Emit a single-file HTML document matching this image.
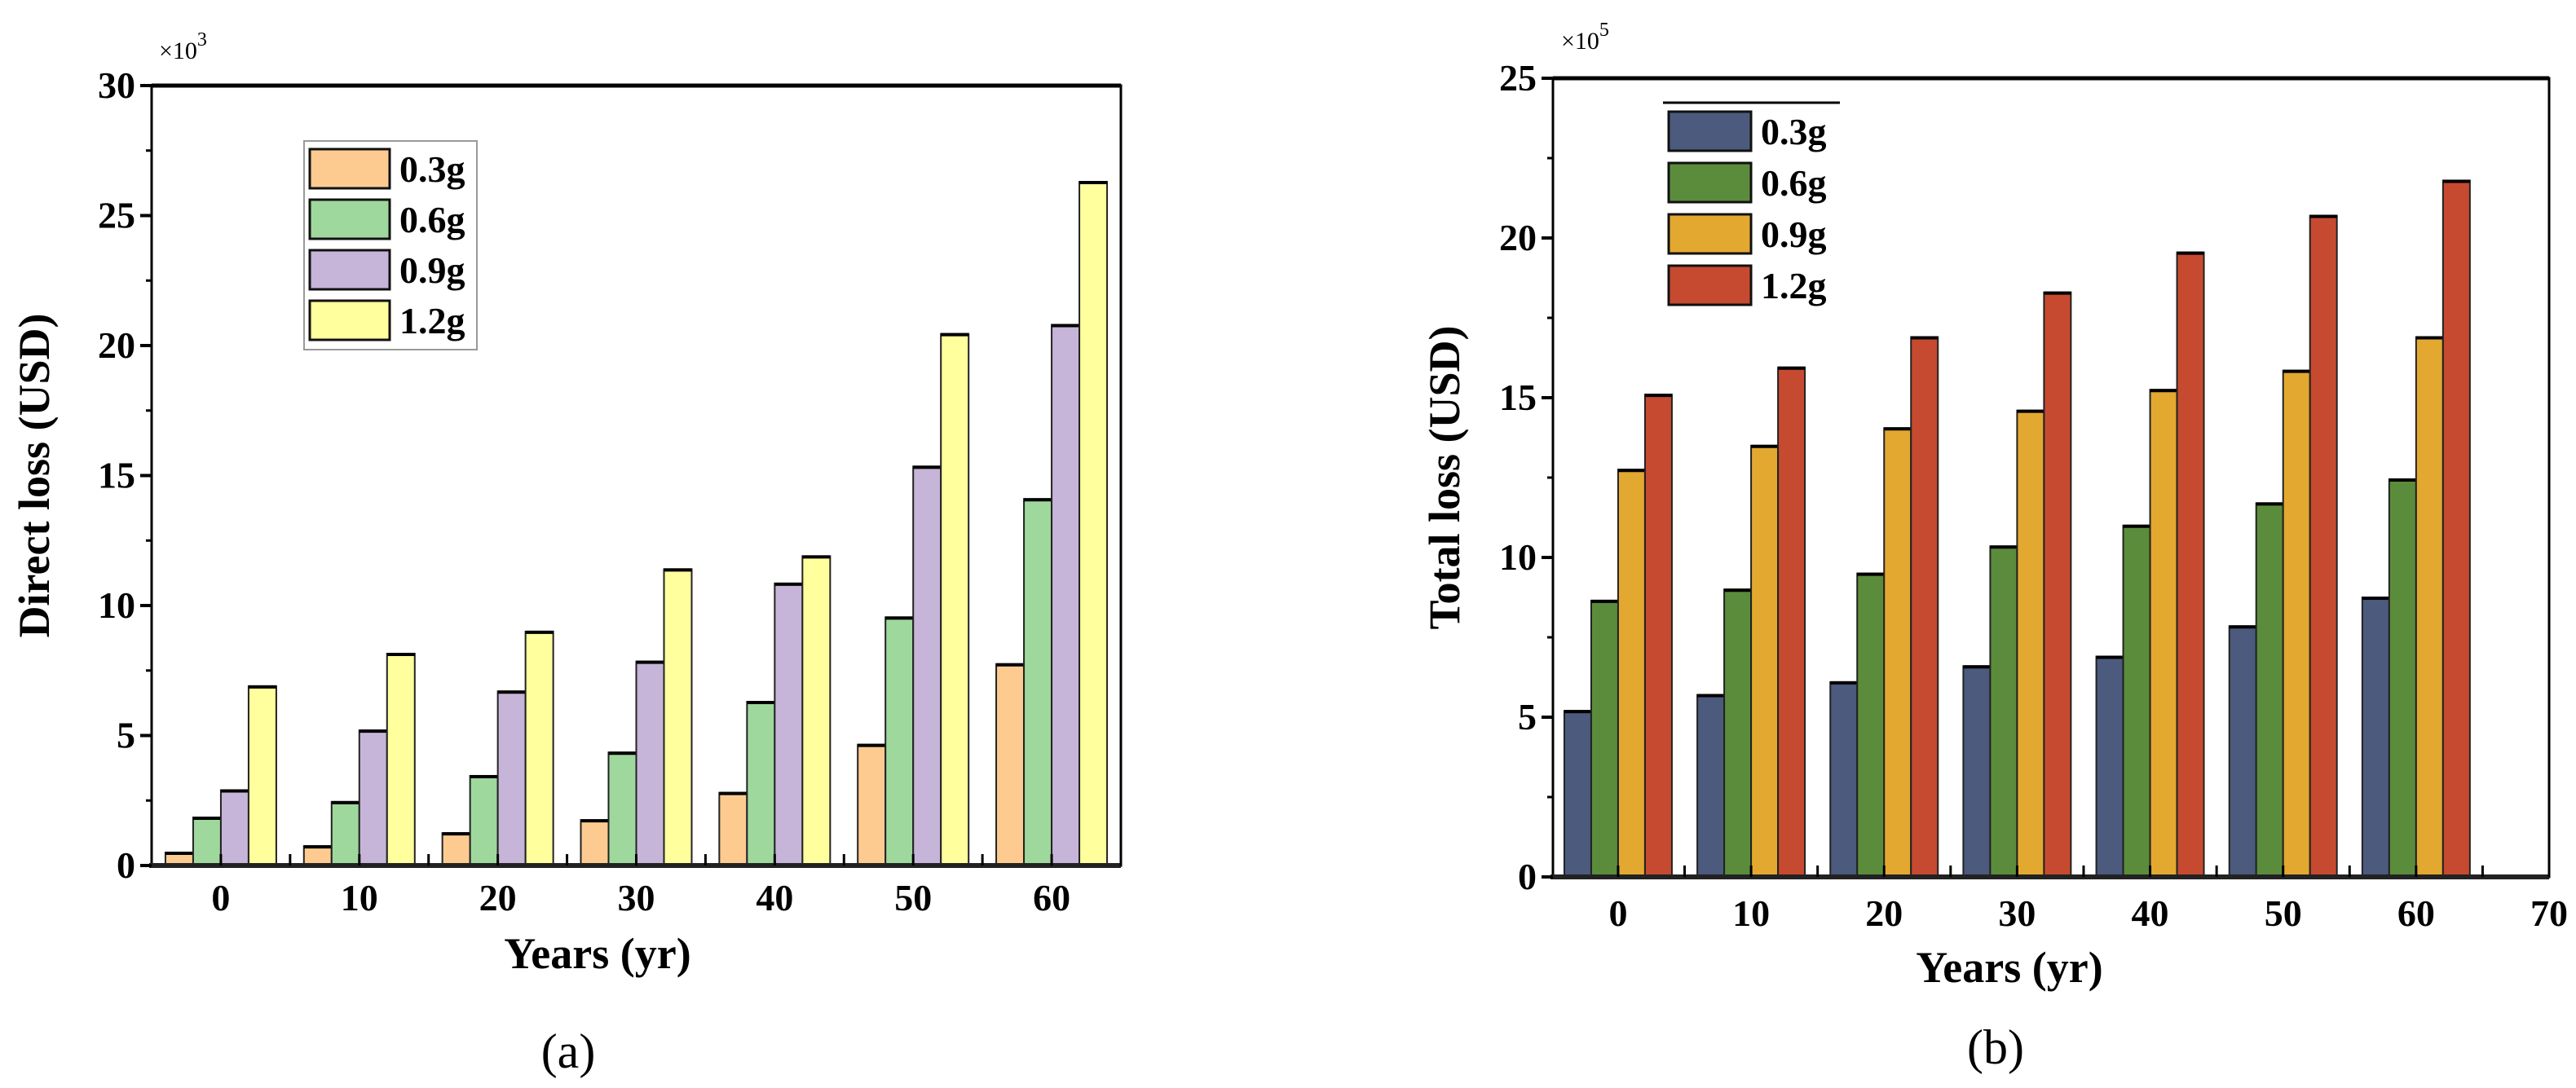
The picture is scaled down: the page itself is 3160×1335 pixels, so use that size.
<!DOCTYPE html>
<html><head><meta charset="utf-8"><style>
html,body{margin:0;padding:0;background:#fff;}
svg{display:block;font-family:"Liberation Serif",serif;}
</style></head><body>
<svg id="fig" width="3160" height="1335" viewBox="0 0 3160 1335" xmlns="http://www.w3.org/2000/svg">
<g id="ga"></g>
<g id="gb"></g>
</svg>
<script>
const categories = [0,10,20,30,40,50,60];
const seriesNames = ["0.3g","0.6g","0.9g","1.2g"];
const directLoss03 = [0.5,0.75,1.25,1.75,2.8,4.65,7.75];
const directLoss06 = [1.85,2.45,3.45,4.35,6.3,9.55,14.1];
const directLoss09 = [2.9,5.2,6.7,7.85,10.85,15.35,20.8];
const directLoss12 = [6.9,8.15,9.0,11.4,11.9,20.45,26.3];
const totalLoss03 = [5.2,5.7,6.1,6.6,6.9,7.85,8.75];
const totalLoss06 = [8.65,9.0,9.5,10.35,11.0,11.7,12.45];
const totalLoss09 = [12.75,13.5,14.05,14.6,15.25,15.85,16.9];
const totalLoss12 = [15.1,15.95,16.9,18.3,19.55,20.7,21.8];
const yTicksA = [0,5,10,15,20,25,30];
const yTicksB = [0,5,10,15,20,25];
const xTicksA = [0,10,20,30,40,50,60];
const xTicksB = [0,10,20,30,40,50,60,70];

const NS="http://www.w3.org/2000/svg";
function mk(parent,tag,attrs,text){const e=document.createElementNS(NS,tag);for(const k in attrs)e.setAttribute(k,attrs[k]);if(text!==undefined)e.textContent=text;parent.appendChild(e);return e;}

function drawChart(g,cfg){
  const {L,R,T,B,xmin,xmax,ymax,series,colors,yTicks,xTicks,barW}=cfg;
  const xs=v=>L+(v-xmin)/(xmax-xmin)*(R-L);
  const ys=v=>B-v/ymax*(B-T);
  // bars
  series.forEach((arr,si)=>{
    arr.forEach((v,ci)=>{
      const cx=xs(categories[ci]);
      const x=cx-2*barW+si*barW;
      const r=mk(g,'rect',{x:x,y:ys(v),width:barW,height:B-ys(v),fill:colors[si],stroke:'#222','stroke-width':2});
      
      
      mk(g,'line',{x1:x,y1:ys(v)+1,x2:x+barW,y2:ys(v)+1,stroke:'#000','stroke-width':4});
    });
  });
  // frame
  const fr=mk(g,'rect',{x:L,y:T,width:R-L,height:B-T,fill:'none',stroke:'#000','stroke-width':3});
  
  
  mk(g,'line',{x1:L,y1:T,x2:R,y2:T,stroke:'#000','stroke-width':5});
  mk(g,'line',{x1:L-3,y1:B,x2:R,y2:B,stroke:'#222','stroke-width':6});
  // y ticks
  yTicks.forEach((t,i)=>{
    const y=ys(t);
    mk(g,'line',{x1:L-14,y1:y,x2:L,y2:y,stroke:'#000','stroke-width':4});
    const tx=mk(g,'text',{x:L-20,y:y+15,'text-anchor':'end','font-size':46,'font-weight':'bold'},String(t));
    
    
    if(i<yTicks.length-1){const ym=ys((t+yTicks[i+1])/2);mk(g,'line',{x1:L-7,y1:ym,x2:L,y2:ym,stroke:'#000','stroke-width':3});}
  });
  // x ticks
  xTicks.forEach(t=>{
    const x=xs(t);
    mk(g,'line',{x1:x,y1:B,x2:x,y2:B-14,stroke:'#000','stroke-width':3});
    mk(g,'line',{x1:x+(xs(5)-xs(0)),y1:B,x2:x+(xs(5)-xs(0)),y2:B-14,stroke:'#000','stroke-width':3});
    const tx=mk(g,'text',{x:x,y:cfg.xLabY,'text-anchor':'middle','font-size':46,'font-weight':'bold'},String(t));
    
    
  });
  const xt=mk(g,'text',{x:cfg.xTitleX,y:cfg.xTitleY,'text-anchor':'middle','font-size':54,'font-weight':'bold'},'Years (yr)');
  
  
  const yt=mk(g,'text',{x:0,y:0,'text-anchor':'middle','font-size':54,'font-weight':'bold',transform:`translate(${cfg.yTitleX},${(T+B)/2}) rotate(-90)`},cfg.yTitle);
  
  
  const mult=mk(g,'text',{x:cfg.multX,y:cfg.multY,'font-size':30},'×10');
  
  
  mk(mult,'tspan',{dy:-16,'font-size':24},cfg.exp);
  const cap=mk(g,'text',{x:cfg.capX,y:cfg.capY,'text-anchor':'middle','font-size':60},cfg.cap);
  
  
  // legend
  const lg=mk(g,'g',{});
  
  
  if(cfg.legBox) mk(lg,'rect',{x:cfg.legBox[0],y:cfg.legBox[1],width:cfg.legBox[2],height:cfg.legBox[3],fill:'#fff',stroke:'#999','stroke-width':2});
  if(cfg.legLine) mk(lg,'line',{x1:cfg.legLine[0],y1:cfg.legLine[1],x2:cfg.legLine[2],y2:cfg.legLine[1],stroke:'#000','stroke-width':3});
  seriesNames.forEach((n,i)=>{
    const y=cfg.legY+i*cfg.legStep;
    const e=mk(lg,'g',{});
    
    
    mk(e,'rect',{x:cfg.legX,y:y,width:cfg.legW,height:48,fill:colors[i],stroke:'#111','stroke-width':3});
    mk(e,'text',{x:cfg.legX+cfg.legW+12,y:y+40,'font-size':46,'font-weight':'bold'},n);
  });
}

drawChart(document.getElementById('ga'),{L:186,R:1375,T:105,B:1062,xmin:-5,xmax:65,ymax:30,
  series:[directLoss03,directLoss06,directLoss09,directLoss12],
  colors:['#fdcb90','#9ed89d','#c6b5d8','#ffff9e'],yTicks:yTicksA,xTicks:xTicksA,barW:34,
  xLabY:1117,xTitleX:733,xTitleY:1188,yTitle:'Direct loss (USD)',yTitleX:60,
  multX:195,multY:72,exp:'3',cap:'(a)',capX:697,capY:1310,
  legBox:[373,173,212,256],legX:380,legW:98,legY:183,legStep:62});
drawChart(document.getElementById('gb'),{L:1905,R:3127,T:96,B:1076,xmin:-4.9,xmax:70,ymax:25,
  series:[totalLoss03,totalLoss06,totalLoss09,totalLoss12],
  colors:['#4b5a7d','#5b8c3c','#e3a830','#c64a30'],yTicks:yTicksB,xTicks:xTicksB,barW:33,
  xLabY:1136,xTitleX:2465,xTitleY:1205,yTitle:'Total loss (USD)',yTitleX:1790,
  multX:1915,multY:60,exp:'5',cap:'(b)',capX:2448,capY:1305,
  legLine:[2040,126,2257],legX:2047,legW:101,legY:137,legStep:63});
</script>
</body></html>
